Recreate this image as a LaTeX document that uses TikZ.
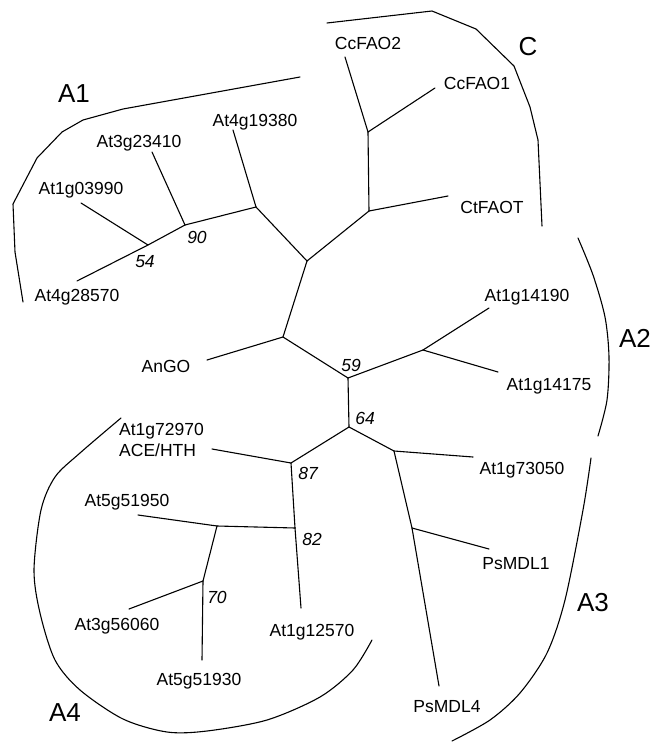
\documentclass[tikz,border=0pt]{standalone}
\usepackage{fontspec}
\setmainfont{Liberation Sans}
\usetikzlibrary{positioning}

\tikzset{
  leaf/.style={font=\fontsize{17.5}{21}\selectfont, inner sep=0pt},
  boot/.style={font=\fontsize{17.5}{21}\selectfont\itshape, inner sep=0pt},
  clade/.style={font=\fontsize{26}{28}\selectfont, inner sep=0pt},
  branch/.style={line width=1.1pt, line cap=round},
  bracket/.style={line width=1.1pt, line cap=round},
}

\begin{document}
\begin{tikzpicture}[x=1pt, y=-1pt]
    \useasboundingbox (0,0) rectangle (656,742);

    % inner nodes of the tree
    \coordinate (top) at (307,261);
    \coordinate (a1a) at (256,207);
    \coordinate (b90) at (185,225);
    \coordinate (b54) at (148,245);
    \coordinate (c1) at (369,211);
    \coordinate (c2) at (368,132);
    \coordinate (mid) at (283,337);
    \coordinate (b59) at (348,378);
    \coordinate (a2) at (423,350);
    \coordinate (b64) at (349,427);
    \coordinate (a3) at (394,451);
    \coordinate (a3b) at (412,528);
    \coordinate (b87) at (291,463);
    \coordinate (b82) at (295,528);
    \coordinate (a4a) at (217,526);
    \coordinate (b70) at (203,581);

    % tips
    \coordinate (t28570) at (77,281);
    \coordinate (t03990) at (81,203);
    \coordinate (t23410) at (152,152);
    \coordinate (t19380) at (233,130);
    \coordinate (tfao2) at (345,57);
    \coordinate (tfao1) at (435,88);
    \coordinate (tfaot) at (448,196);
    \coordinate (tango) at (207,360);
    \coordinate (t14190) at (489,308);
    \coordinate (t14175) at (498,372);
    \coordinate (t73050) at (473,457);
    \coordinate (tmdl1) at (489,549);
    \coordinate (tmdl4) at (439,686);
    \coordinate (tace) at (212,449);
    \coordinate (t12570) at (301,608);
    \coordinate (t51950) at (138,515);
    \coordinate (t56060) at (129,609);
    \coordinate (t51930) at (202,660);

    % leaf labels
    \node[leaf] (l28570) at (77,297) {At4g28570};
    \node[leaf] (l03990) at (81,190) {At1g03990};
    \node[leaf] (l23410) at (139,143) {At3g23410};
    \node[leaf] (l19380) at (255,122) {At4g19380};
    \node[leaf] (lfao2) at (368,43) {CcFAO2};
    \node[leaf] (lfao1) at (477,83) {CcFAO1};
    \node[leaf] (lfaot) at (492,207) {CtFAOT};
    \node[leaf] (lango) at (166,366) {AnGO};
    \node[leaf] (l14190) at (527,297) {At1g14190};
    \node[leaf] (l14175) at (549,386) {At1g14175};
    \node[leaf] (l73050) at (522,470) {At1g73050};
    \node[leaf] (lmdl1) at (516,564) {PsMDL1};
    \node[leaf] (lmdl4) at (447,707) {PsMDL4};
    \node[leaf, align=left, anchor=west] (lace) at (119,440) {At1g72970\\ACE/HTH};
    \node[leaf] (l12570) at (312,632) {At1g12570};
    \node[leaf] (l51950) at (127,502) {At5g51950};
    \node[leaf] (l56060) at (117,626) {At3g56060};
    \node[leaf] (l51930) at (199,681) {At5g51930};

    % bootstrap values
    \node[boot] (v90) at (197,237) {90};
    \node[boot] (v54) at (145,262) {54};
    \node[boot] (v59) at (351,365) {59};
    \node[boot] (v64) at (365,418) {64};
    \node[boot] (v87) at (308,473) {87};
    \node[boot] (v82) at (312,539) {82};
    \node[boot] (v70) at (217,597) {70};

    % branches
    \draw[branch] (top) -- (a1a);
    \draw[branch] (a1a) -- (t19380);
    \draw[branch] (a1a) -- (b90);
    \draw[branch] (b90) -- (t23410);
    \draw[branch] (b90) -- (b54);
    \draw[branch] (b54) -- (t03990);
    \draw[branch] (b54) -- (t28570);
    \draw[branch] (top) -- (c1);
    \draw[branch] (c1) -- (tfaot);
    \draw[branch] (c1) -- (c2);
    \draw[branch] (c2) -- (tfao2);
    \draw[branch] (c2) -- (tfao1);
    \draw[branch] (top) -- (mid);
    \draw[branch] (mid) -- (tango);
    \draw[branch] (mid) -- (b59);
    \draw[branch] (b59) -- (a2);
    \draw[branch] (a2) -- (t14190);
    \draw[branch] (a2) -- (t14175);
    \draw[branch] (b59) -- (b64);
    \draw[branch] (b64) -- (a3);
    \draw[branch] (a3) -- (t73050);
    \draw[branch] (a3) -- (a3b);
    \draw[branch] (a3b) -- (tmdl1);
    \draw[branch] (a3b) -- (tmdl4);
    \draw[branch] (b64) -- (b87);
    \draw[branch] (b87) -- (tace);
    \draw[branch] (b87) -- (b82);
    \draw[branch] (b82) -- (t12570);
    \draw[branch] (b82) -- (a4a);
    \draw[branch] (a4a) -- (t51950);
    \draw[branch] (a4a) -- (b70);
    \draw[branch] (b70) -- (t56060);
    \draw[branch] (b70) -- (t51930);

    % clade brackets
    \draw[bracket] (300,77) -- (123,109) -- (83,120) -- (62,132) -- (37,158)
        -- (13,204) -- (15,252) -- (23,302);
    \draw[bracket] (327,23) -- (432,11) -- (476,29) -- (514,66) -- (530,107)
        -- (538,140) -- (542,226);
    \draw[bracket] plot[smooth] coordinates {(578,238) (593,275) (605,317)
        (609,357) (607,400) (598,436)};
    \draw[bracket] plot[smooth] coordinates {(591,458) (583,510) (565,600)
        (547,653) (520,693) (490,720) (452,741)};
    \draw[bracket] plot[smooth] coordinates {(121,418) (80,453) (55,477)
        (41,510) (34,570) (40,613) (55,660) (80,690) (123,719) (167,732)
        (207,731) (267,720) (320,697) (353,670) (372,640)};

    % clade labels
    \node[clade] (cA1) at (74,94) {A1};
    \node[clade] (cC) at (528,47) {C};
    \node[clade] (cA2) at (635,338) {A2};
    \node[clade] (cA3) at (593,603) {A3};
    \node[clade] (cA4) at (65,713) {A4};
\end{tikzpicture}
\end{document}
